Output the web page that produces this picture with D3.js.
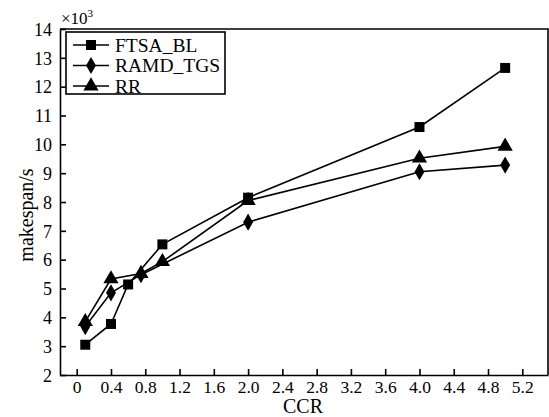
<!DOCTYPE html>
<html>
<head>
<meta charset="utf-8">
<script src="https://cdn.jsdelivr.net/npm/d3@7"></script>
<style>
  body { margin: 0; background: #fff; }
</style>
</head>
<body>
<div id="chart"></div>
<script>
// makespan (x10^3 s) vs CCR
const ftsaBL = [[0.1, 3.05], [0.4, 3.77], [0.6, 5.14], [1.0, 6.53], [2.0, 8.15], [4.0, 10.6], [5.0, 12.65]];
const ramdTGS = [[0.1, 3.68], [0.4, 4.85], [0.75, 5.48], [2.0, 7.3], [4.0, 9.05], [5.0, 9.28]];
const rr = [[0.1, 3.85], [0.4, 5.33], [0.75, 5.52], [1.0, 5.93], [2.0, 8.05], [4.0, 9.52], [5.0, 9.93]];

const xTicks = [0, 0.4, 0.8, 1.2, 1.6, 2.0, 2.4, 2.8, 3.2, 3.6, 4.0, 4.4, 4.8, 5.2];
const yTicks = [2, 3, 4, 5, 6, 7, 8, 9, 10, 11, 12, 13, 14];

const seriesNames = ["FTSA_BL", "RAMD_TGS", "RR"];
const seriesData = [ftsaBL, ramdTGS, rr];
const seriesSymbols = [d3.symbolSquare, d3.symbolDiamond, d3.symbolTriangle];

const serif = '"Liberation Serif", "DejaVu Serif", "Times New Roman", serif';
const width = 549, height = 417;
const margin = {top: 29, right: 1, bottom: 42, left: 60};

const svg = d3.select("#chart").append("svg")
    .attr("width", width)
    .attr("height", height)
    .attr("font-family", serif);

const x = d3.scaleLinear().domain([-0.195, 5.5]).range([margin.left, width - margin.right]);
const y = d3.scaleLinear().domain([2, 14]).range([height - margin.bottom, margin.top]);

// axes with inward ticks
const xAxis = svg.append("g")
    .attr("transform", `translate(0,${height - margin.bottom})`)
    .call(d3.axisBottom(x).tickValues(xTicks).tickSizeInner(-6).tickSizeOuter(0)
        .tickFormat(d => d === 0 ? "0" : d3.format(".1f")(d)));
xAxis.attr("font-family", serif).attr("font-size", 17.5);
xAxis.selectAll("text").attr("y", 3).attr("dy", "0.88em").attr("fill", "#000");

const yAxis = svg.append("g")
    .attr("transform", `translate(${margin.left},0)`)
    .call(d3.axisLeft(y).tickValues(yTicks).tickSizeInner(-6).tickSizeOuter(0).tickFormat(d3.format("d")));
yAxis.attr("font-family", serif).attr("font-size", 18);
yAxis.selectAll("text").attr("x", -8).attr("dy", "0.35em").attr("fill", "#000");

svg.selectAll(".domain").attr("stroke", "#000").attr("stroke-width", 1.6);
svg.selectAll(".tick line").attr("stroke", "#000").attr("stroke-width", 1.6);

// top and right borders
svg.append("path")
    .attr("d", `M${margin.left},${margin.top}H${width - margin.right}V${height - margin.bottom}`)
    .attr("fill", "none").attr("stroke", "#000").attr("stroke-width", 1.6);

// lines + markers
const line = d3.line().x(d => x(d[0])).y(d => y(d[1]));

seriesData.forEach((data, i) => {
    svg.append("path")
        .datum(data)
        .attr("fill", "none")
        .attr("stroke", "#000")
        .attr("stroke-width", 1.6)
        .attr("d", line);

    svg.selectAll(".m" + i)
        .data(data)
        .enter()
        .append("path")
        .attr("class", "m" + i)
        .attr("transform", d => `translate(${x(d[0])},${y(d[1])})`)
        .attr("d", d3.symbol().type(seriesSymbols[i]).size(i === 1 ? 85 : 100))
        .attr("fill", "#000");
});

// legend
const legend = svg.append("g").attr("transform", "translate(66,32)");
legend.append("rect")
    .attr("width", 159).attr("height", 62)
    .attr("fill", "#fff").attr("stroke", "#000").attr("stroke-width", 1.6);

seriesNames.forEach((name, i) => {
    const ly = 13 + i * 20.5;
    legend.append("line")
        .attr("x1", 7).attr("x2", 43).attr("y1", ly).attr("y2", ly)
        .attr("stroke", "#000").attr("stroke-width", 1.6);
    legend.append("path")
        .attr("transform", `translate(25,${ly})`)
        .attr("d", d3.symbol().type(seriesSymbols[i]).size(i === 1 ? 85 : 100))
        .attr("fill", "#000");
    legend.append("text")
        .attr("x", 49).attr("y", ly).attr("dy", "0.35em")
        .attr("font-size", 19.5)
        .text(name);
});

// multiplier
const mult = svg.append("text").attr("x", 61).attr("y", 24).attr("font-size", 17);
mult.append("tspan").text("×10");
mult.append("tspan").attr("dy", -7).attr("font-size", 11).text("3");

// axis titles
svg.append("text")
    .attr("x", 303).attr("y", 413)
    .attr("text-anchor", "middle")
    .attr("font-size", 20)
    .text("CCR");

svg.append("text")
    .attr("transform", "translate(33,215) rotate(-90)")
    .attr("text-anchor", "middle")
    .attr("font-size", 20)
    .text("makespan/s");
</script>
</body>
</html>
